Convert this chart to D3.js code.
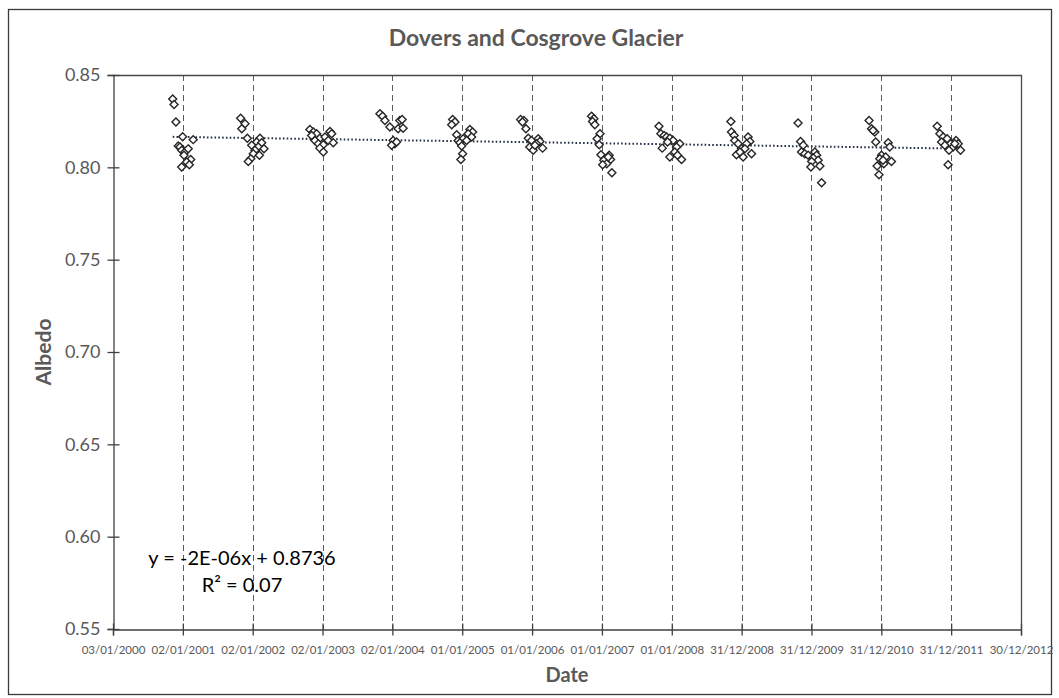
<!DOCTYPE html>
<html>
<head>
<meta charset="utf-8">
<script src="https://cdn.jsdelivr.net/npm/d3@7"></script>
<style>
  html, body { margin: 0; padding: 0; background: #fff; }
  svg { display: block; }
  text { font-family: Lato, "Open Sans", sans-serif; }
</style>
</head>
<body>
<svg id="chart" width="1059" height="698"></svg>
<script>
// Albedo observations per summer season: [days from 1 January of the season year, albedo]
const season2001 = [[-52,0.837],[-45,0.834],[-35,0.8245],[55,0.815],[-23,0.8115],[-14,0.811],[-5,0.8092],[12,0.8083],[29,0.810],[7,0.8065],[42,0.8043],[21,0.8029],[35,0.8014],[-5,0.8002],[0,0.8165]];
const season2002 = [[-62,0.8266],[-39,0.8236],[-56,0.8209],[-27,0.8158],[39,0.8158],[22,0.8137],[48,0.8133],[-4,0.8119],[30,0.811],[60,0.810],[13,0.8092],[4,0.8074],[-9,0.8047],[-22,0.8032],[36,0.8065]];
const season2003 = [[-65,0.8205],[-47,0.8191],[-30,0.8182],[40,0.8194],[49,0.8182],[-13,0.8158],[14,0.8164],[-39,0.8145],[31,0.8145],[57,0.8133],[-21,0.8128],[5,0.8122],[-13,0.8104],[5,0.8083],[-56,0.8173]];
const season2004 = [[-64,0.829],[-50,0.8277],[-38,0.8253],[-12,0.8218],[40,0.8253],[31,0.8209],[57,0.8212],[52,0.8259],[5,0.8145],[14,0.8128],[-3,0.8119],[23,0.8137]];
const season2005 = [[-50,0.8259],[-38,0.8245],[-55,0.823],[-29,0.8176],[40,0.8205],[54,0.8191],[31,0.8182],[49,0.8164],[-21,0.8145],[5,0.8155],[23,0.8145],[-12,0.8133],[-3,0.8115],[2,0.8074],[-7,0.8043]];
const season2006 = [[-60,0.8259],[-43,0.8253],[-50,0.8245],[-32,0.8209],[-20,0.8158],[-3,0.8145],[32,0.8155],[41,0.814],[23,0.8128],[55,0.8104],[-12,0.811],[6,0.8092],[15,0.8119]];
const season2007 = [[-54,0.8277],[-42,0.8263],[-49,0.8248],[-37,0.823],[-10,0.8182],[-25,0.8155],[-14,0.8122],[-5,0.8068],[38,0.8065],[10,0.8038],[45,0.8043],[25,0.802],[4,0.8014],[52,0.7971],[33,0.8056]];
const season2008 = [[-67,0.8223],[-57,0.8182],[-40,0.8173],[-27,0.8164],[-10,0.8158],[7,0.8145],[42,0.8128],[25,0.811],[-50,0.8104],[16,0.8083],[-10,0.8056],[51,0.8043],[30,0.8065],[-22,0.8137]];
const season2009 = [[-57,0.8248],[-54,0.8191],[-40,0.8173],[-37,0.8145],[-19,0.8128],[33,0.8164],[42,0.814],[25,0.8128],[-2,0.810],[16,0.810],[51,0.8074],[-28,0.8068],[7,0.8056],[-10,0.8083]];
const season2010 = [[-71,0.824],[-58,0.814],[-44,0.8119],[-53,0.8083],[-36,0.8074],[-18,0.8065],[17,0.8083],[26,0.8065],[8,0.8051],[34,0.8038],[0,0.8032],[43,0.8007],[-4,0.8002],[52,0.7916]];
const season2011 = [[-65,0.8253],[-52,0.8209],[-35,0.8191],[-44,0.820],[-30,0.8137],[35,0.8133],[43,0.811],[0,0.8065],[22,0.8056],[-9,0.8047],[52,0.8032],[12,0.802],[-23,0.8007],[-13,0.796],[8,0.8038]];
const season2012 = [[-74,0.8223],[-60,0.8182],[-43,0.8164],[-22,0.8155],[-4,0.8128],[-51,0.8137],[-34,0.8119],[24,0.8145],[36,0.8128],[48,0.8092],[9,0.811],[-12,0.8092],[-17,0.8014],[18,0.8128]];

const seasonYears = [2001, 2002, 2003, 2004, 2005, 2006, 2007, 2008, 2009, 2010, 2011, 2012];
const seasons = [season2001, season2002, season2003, season2004, season2005, season2006,
                 season2007, season2008, season2009, season2010, season2011, season2012];

// Category axis labels (one every 365 days)
const xTickLabels = ["03/01/2000","02/01/2001","02/01/2002","02/01/2003","02/01/2004","01/01/2005",
  "01/01/2006","01/01/2007","01/01/2008","31/12/2008","31/12/2009","31/12/2010","31/12/2011","30/12/2012"];
const yTicks = [0.55, 0.60, 0.65, 0.70, 0.75, 0.80, 0.85];

// Linear trend in spreadsheet serial days (day 0 = 30/12/1899)
const trendSlope = -1.55e-6;
const trendIntercept = 0.8736;
const trendLabel = ["y = -2E-06x + 0.8736", "R² = 0.07"];

const DAY = 86400000;
const parseDate = d3.utcParse("%d/%m/%Y");
const tickDates = xTickLabels.map(parseDate);
const serial = d => (d - Date.UTC(1899, 11, 30)) / DAY;

const points = [];
seasons.forEach((s, i) => {
  const base = Date.UTC(seasonYears[i], 0, 1);
  s.forEach(([off, v]) => points.push({ date: new Date(base + off * DAY), value: v }));
});

const svg = d3.select("#chart");
const plot = { left: 113, right: 1021, top: 75, bottom: 629 };

const x = d3.scaleUtc()
  .domain([tickDates[0], tickDates[tickDates.length - 1]])
  .range([plot.left, plot.right]);
const y = d3.scaleLinear().domain([0.55, 0.85]).range([plot.bottom, plot.top]);

// Outer chart frame
svg.append("rect")
  .attr("x", 8.5).attr("y", 9.5).attr("width", 1043).attr("height", 685)
  .attr("fill", "#fff").attr("stroke", "#3a3a3a").attr("stroke-width", 1.3);

// Title
svg.append("text")
  .attr("x", 536).attr("y", 46)
  .attr("text-anchor", "middle")
  .attr("font-size", 23).attr("font-weight", 700)
  .attr("fill", "#595959")
  .text("Dovers and Cosgrove Glacier");

// Vertical dashed gridlines at the major ticks
svg.append("g")
  .selectAll("line")
  .data(tickDates.slice(1, -1))
  .join("line")
  .attr("x1", d => Math.round(x(d)) + 0.5).attr("x2", d => Math.round(x(d)) + 0.5)
  .attr("y1", plot.top).attr("y2", plot.bottom)
  .attr("stroke", "#5a5a5a").attr("stroke-width", 1)
  .attr("stroke-dasharray", "6,4");

// Plot frame: top and right edges
svg.append("path")
  .attr("d", `M${plot.left},${plot.top + 0.5}H${plot.right + 0.5}V${plot.bottom}`)
  .attr("fill", "none").attr("stroke", "#4a4a4a").attr("stroke-width", 1.3);

// Y axis
const yAxis = d3.axisLeft(y).tickValues(yTicks).tickFormat(d3.format(".2f")).tickSize(6).tickPadding(7);
const gy = svg.append("g").attr("transform", `translate(${plot.left + 0.5},0)`).call(yAxis);
gy.select(".domain").attr("stroke", "#404040").attr("stroke-width", 1.3);
gy.selectAll(".tick line").attr("stroke", "#404040").attr("stroke-width", 1.3).attr("x2", 6).attr("x1", -6);
gy.selectAll(".tick text").attr("font-size", 18).attr("fill", "#595959")
  .attr("font-family", "Lato, sans-serif");

// X axis
const xAxis = d3.axisBottom(x).tickValues(tickDates)
  .tickFormat((d, i) => xTickLabels[i]).tickSize(6).tickPadding(10);
const gx = svg.append("g").attr("transform", `translate(0,${plot.bottom + 0.5})`).call(xAxis);
gx.select(".domain").attr("stroke", "#404040").attr("stroke-width", 1.3);
gx.selectAll(".tick line").attr("stroke", "#404040").attr("stroke-width", 1.3).attr("y1", -6).attr("y2", 6);
gx.selectAll(".tick text").attr("font-size", 11.5).attr("fill", "#595959")
  .attr("font-family", "Lato, sans-serif");

// Axis titles
svg.append("text")
  .attr("transform", `translate(51,${(plot.top + plot.bottom) / 2}) rotate(-90)`)
  .attr("text-anchor", "middle")
  .attr("font-size", 21).attr("font-weight", 700).attr("fill", "#595959")
  .text("Albedo");
svg.append("text")
  .attr("x", (plot.left + plot.right) / 2).attr("y", 682)
  .attr("text-anchor", "middle")
  .attr("font-size", 20).attr("font-weight", 700).attr("fill", "#595959")
  .text("Date");

// Trend line across the span of the observations
const [d0, d1] = d3.extent(points, p => p.date);
const trend = d => trendIntercept + trendSlope * serial(d);
svg.append("line")
  .attr("x1", x(d0)).attr("y1", y(trend(d0)))
  .attr("x2", x(d1)).attr("y2", y(trend(d1)))
  .attr("stroke", "#243047").attr("stroke-width", 2)
  .attr("stroke-dasharray", "1.6,2.2");

// Observation markers (open diamonds)
const r = 4;
svg.append("g")
  .selectAll("path")
  .data(points)
  .join("path")
  .attr("transform", p => `translate(${x(p.date)},${y(p.value)})`)
  .attr("d", `M0,${-r}L${r},0L0,${r}L${-r},0Z`)
  .attr("fill", "#fff")
  .attr("stroke", "#262626")
  .attr("stroke-width", 1.4);

// Trend equation
svg.append("g")
  .selectAll("text")
  .data(trendLabel)
  .join("text")
  .attr("x", 242).attr("y", (d, i) => 565 + i * 27)
  .attr("text-anchor", "middle")
  .attr("font-size", 20).attr("fill", "#000")
  .text(d => d);
</script>
</body>
</html>
